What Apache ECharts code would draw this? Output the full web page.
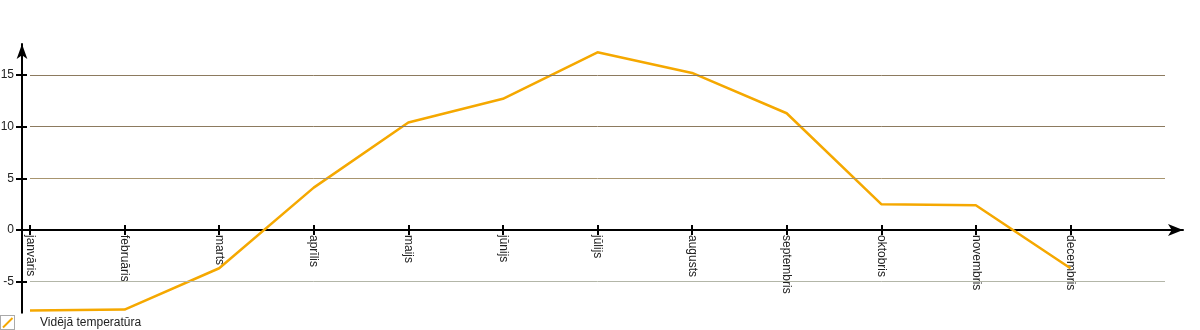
<!DOCTYPE html>
<html>
<head>
<meta charset="utf-8">
<script src="https://cdn.jsdelivr.net/npm/echarts@6/dist/echarts.min.js"></script>
<style>
html,body{margin:0;padding:0;background:#fff;}
#chart{width:1200px;height:330px;}
</style>
</head>
<body>
<div id="chart"></div>
<script>
const months = ['janvāris','februāris','marts','aprīlis','maijs','jūnijs','jūlijs','augusts','septembris','oktobris','novembris','decembris'];
const temperature = [-7.8, -7.7, -3.7, 4.1, 10.4, 12.7, 17.2, 15.2, 11.3, 2.5, 2.4, -3.7];
const seriesName = 'Vidējā temperatūra';
const yTicks = [-5, 0, 5, 10, 15];
const gridValues = [-5, 5, 10, 15];
const gridColors = ['#b3b6a8', '#a8956f', '#8c7a5f', '#8c7a5f'];
const yMin = -8, yMax = 18;

const monthIdx = months.map((m, i) => i);
const font = 'Liberation Sans, Arial, sans-serif';

const GRID_TOP = 44, GRID_BOTTOM = 17.33, H = 330;
// distance from grid bottom edge up to the value 0
const zeroOffset = -((H - GRID_BOTTOM - GRID_TOP) * (0 - yMin) / (yMax - yMin));

const legendIcon = 'image://data:image/svg+xml;charset=utf-8,' + encodeURIComponent(
  '<svg xmlns="http://www.w3.org/2000/svg" width="15" height="15" viewBox="0 0 15 15">' +
  '<rect x="0.5" y="0.5" width="14" height="14" fill="#fff" stroke="#aaa" stroke-width="1"/>' +
  '<line x1="3" y1="12.5" x2="12.5" y2="3" stroke="#f5a800" stroke-width="2"/></svg>');

const chart = echarts.init(document.getElementById('chart'), null, {renderer: 'canvas'});
const option = {
  animation: false,
  textStyle: {fontFamily: font},
  grid: [
    {left: 30, right: 35, top: GRID_TOP, bottom: GRID_BOTTOM, containLabel: false, outerBoundsMode: 'none'},
    {left: 22, right: 17, top: GRID_TOP, bottom: GRID_BOTTOM, containLabel: false, outerBoundsMode: 'none'}
  ],
  legend: {
    left: 0, top: 315, itemWidth: 15, itemHeight: 15, itemGap: 10, padding: 0,
    data: [{name: seriesName, icon: legendIcon}],
    textStyle: {fontFamily: font, fontSize: 12, color: '#222', padding: [0, 0, 0, 20]}
  },
  xAxis: [
    {
      gridIndex: 0, type: 'value', min: 0, max: 12, position: 'bottom', offset: zeroOffset,
      axisLine: {show: false, onZero: false},
      splitLine: {show: false},
      axisTick: {show: true, inside: false, length: 5, customValues: monthIdx,
                 lineStyle: {color: '#000', width: 2}},
      axisLabel: {show: true, rotate: -90, margin: 5, fontSize: 12, color: '#222',
                  fontFamily: font, customValues: monthIdx,
                  formatter: v => months[Math.round(v)] || ''}
    },
    {
      gridIndex: 0, type: 'value', min: 0, max: 12, position: 'bottom', offset: zeroOffset,
      axisLine: {show: false, onZero: false},
      splitLine: {show: false},
      axisTick: {show: true, inside: true, length: 5, customValues: monthIdx,
                 lineStyle: {color: '#000', width: 2}},
      axisLabel: {show: false}
    },
    {
      gridIndex: 1, type: 'value', min: 0, max: 1, position: 'bottom', offset: zeroOffset,
      axisLine: {show: true, onZero: false, symbol: ['none', 'arrow'], symbolSize: [9, 15],
                 lineStyle: {color: '#000', width: 2}},
      splitLine: {show: false}, axisTick: {show: false}, axisLabel: {show: false}
    }
  ],
  yAxis: [
    {gridIndex: 0, type: 'value', min: yMin, max: yMax, show: false, axisLine: {onZero: false}, splitLine: {show: false}},
    {
      gridIndex: 1, type: 'value', min: yMin, max: yMax, position: 'left',
      axisLine: {show: true, onZero: false, symbol: ['none', 'arrow'], symbolSize: [8, 15],
                 lineStyle: {color: '#000', width: 2}},
      splitLine: {show: false},
      axisTick: {show: true, inside: false, length: 6, customValues: yTicks,
                 lineStyle: {color: '#000', width: 2}},
      axisLabel: {show: true, margin: 8, fontSize: 12, color: '#222', fontFamily: font,
                  customValues: yTicks}
    },
    {
      gridIndex: 1, type: 'value', min: yMin, max: yMax, position: 'left',
      axisLine: {show: false, onZero: false},
      splitLine: {show: false},
      axisTick: {show: true, inside: true, length: 5, customValues: yTicks,
                 lineStyle: {color: '#000', width: 2}},
      axisLabel: {show: false}
    }
  ],
  series: [
    {
      name: 'grid', type: 'line', xAxisIndex: 0, yAxisIndex: 0, data: [], z: 1,
      silent: true,
      markLine: {
        silent: true, symbol: ['none', 'none'], label: {show: false},
        animation: false,
        data: gridValues.map((v, i) => ({yAxis: v, lineStyle: {color: gridColors[i], width: 1, type: 'solid'}}))
      }
    },
    {
      name: seriesName, type: 'line', xAxisIndex: 0, yAxisIndex: 0, z: 3,
      data: temperature.map((v, i) => [i, v]),
      showSymbol: false, symbol: 'none',
      lineStyle: {color: '#f5a800', width: 2.5},
      itemStyle: {color: '#f5a800'}
    }
  ]
};
chart.setOption(option);
</script>
</body>
</html>
